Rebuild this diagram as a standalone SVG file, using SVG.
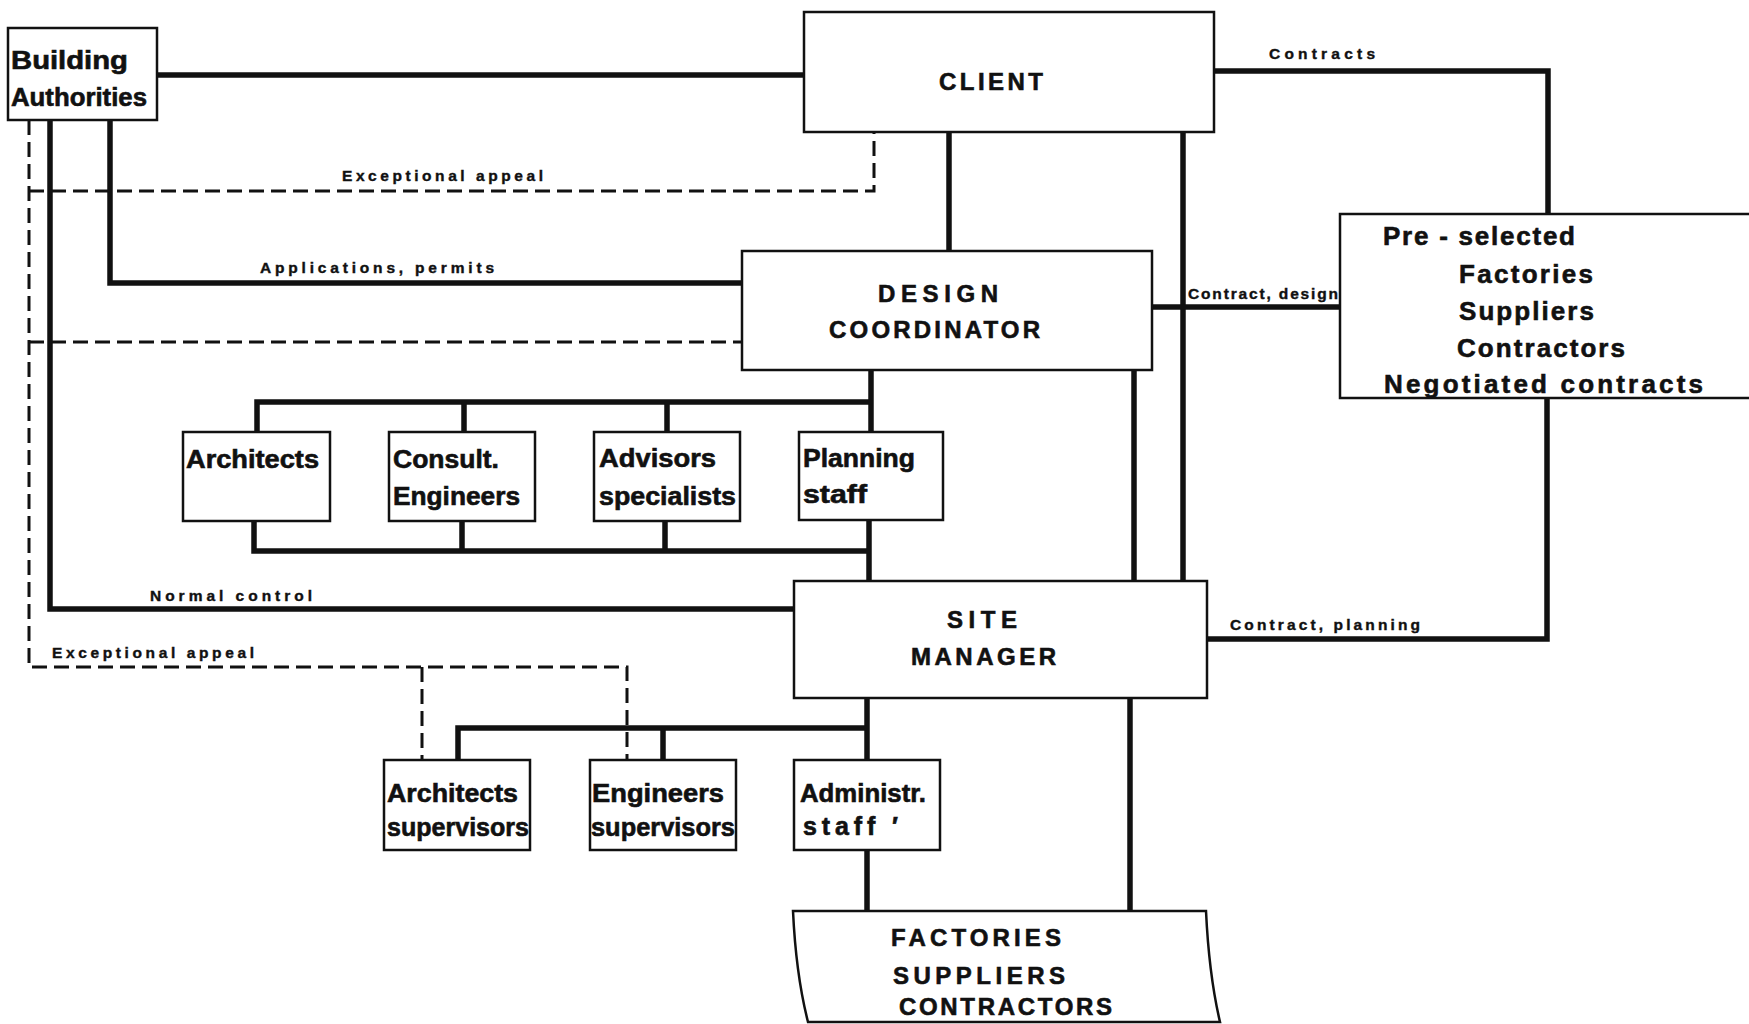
<svg xmlns="http://www.w3.org/2000/svg" width="1749" height="1024" viewBox="0 0 1749 1024">
<style>
.box{fill:#fff;stroke:#111;stroke-width:2.5}
.ln{fill:none;stroke:#111;stroke-width:5.5;stroke-linejoin:miter}
.ds{fill:none;stroke:#111;stroke-width:3;stroke-dasharray:15 7}
text{font-family:"Liberation Sans",Arial,sans-serif;font-weight:bold;fill:#111;stroke:#111;stroke-width:0.6}
.bt{font-size:25px}
.pb{font-size:26px}
.big{font-size:24px}
.lab{font-size:15.5px;stroke-width:0.4}
</style>
<rect width="1749" height="1024" fill="#fff"/>
<g id="connectors">
  <path class="ln" d="M157,75 H804"/>
  <path class="ln" d="M949,132 V251"/>
  <path class="ln" d="M1183,132 V581"/>
  <path class="ln" d="M1214,71 H1548 V214"/>
  <path class="ln" d="M1152,307 H1340"/>
  <path class="ln" d="M1547,398 V639 H1207"/>
  <path class="ln" d="M1134,370 V581"/>
  <path class="ln" d="M110,120 V283 H742"/>
  <path class="ln" d="M50,120 V609 H794"/>
  <path class="ln" d="M871,370 V432"/>
  <path class="ln" d="M257,432 V402 H871"/>
  <path class="ln" d="M464,402 V432 M667,402 V432"/>
  <path class="ln" d="M254,521 V551 H869 M462,521 V551 M665,521 V551 M869,520 V581"/>
  <path class="ln" d="M867,698 V760"/>
  <path class="ln" d="M458,760 V728 H867 M663,728 V760"/>
  <path class="ln" d="M867,850 V911"/>
  <path class="ln" d="M1130,698 V911"/>
  <path class="ds" d="M29,120 V667 H627 V760"/>
  <path class="ds" d="M422,667 V760"/>
  <path class="ds" d="M29,191 H874 V132"/>
  <path class="ds" d="M29,342 H742"/>
  <text class="lab" x="1269" y="59" textLength="106" lengthAdjust="spacing">Contracts</text>
  <text class="lab" x="342" y="181" textLength="201" lengthAdjust="spacing">Exceptional  appeal</text>
  <text class="lab" x="260" y="273" textLength="234" lengthAdjust="spacing">Applications, permits</text>
  <text class="lab" x="1188" y="299" textLength="150" lengthAdjust="spacing">Contract, design</text>
  <text class="lab" x="1230" y="630" textLength="190" lengthAdjust="spacing">Contract, planning</text>
  <text class="lab" x="150" y="601" textLength="162" lengthAdjust="spacing">Normal  control</text>
  <text class="lab" x="52" y="658" textLength="202" lengthAdjust="spacing">Exceptional  appeal</text>
</g>
<g id="building-authorities">
  <rect class="box" x="8" y="28" width="149" height="92"/>
  <text class="bt" x="11" y="69" textLength="117" lengthAdjust="spacingAndGlyphs">Building</text>
  <text class="bt" x="11" y="106" textLength="136" lengthAdjust="spacingAndGlyphs">Authorities</text>
</g>
<g id="client">
  <rect class="box" x="804" y="12" width="410" height="120"/>
  <text class="big" x="939" y="90" textLength="104" lengthAdjust="spacing">CLIENT</text>
</g>
<g id="design-coordinator">
  <rect class="box" x="742" y="251" width="410" height="119"/>
  <text class="big" x="878" y="302" textLength="120" lengthAdjust="spacing">DESIGN</text>
  <text class="big" x="829" y="338" textLength="211" lengthAdjust="spacing">COORDINATOR</text>
</g>
<g id="preselected">
  <rect class="box" x="1340" y="214" width="420" height="184"/>
  <text class="pb" x="1383" y="245" textLength="192" lengthAdjust="spacing">Pre - selected</text>
  <text class="pb" x="1459" y="283" textLength="134" lengthAdjust="spacing">Factories</text>
  <text class="pb" x="1459" y="320" textLength="135" lengthAdjust="spacing">Suppliers</text>
  <text class="pb" x="1457" y="357" textLength="168" lengthAdjust="spacing">Contractors</text>
  <text class="pb" x="1384" y="393" textLength="319" lengthAdjust="spacing">Negotiated  contracts</text>
</g>
<g id="architects">
  <rect class="box" x="183" y="432" width="147" height="89"/>
  <text class="bt" x="186" y="468" textLength="133" lengthAdjust="spacingAndGlyphs">Architects</text>
</g>
<g id="consult-engineers">
  <rect class="box" x="389" y="432" width="146" height="89"/>
  <text class="bt" x="393" y="468" textLength="106" lengthAdjust="spacingAndGlyphs">Consult.</text>
  <text class="bt" x="393" y="505" textLength="127" lengthAdjust="spacingAndGlyphs">Engineers</text>
</g>
<g id="advisors">
  <rect class="box" x="594" y="432" width="146" height="89"/>
  <text class="bt" x="599" y="467" textLength="117" lengthAdjust="spacingAndGlyphs">Advisors</text>
  <text class="bt" x="599" y="505" textLength="137" lengthAdjust="spacingAndGlyphs">specialists</text>
</g>
<g id="planning-staff">
  <rect class="box" x="799" y="432" width="144" height="88"/>
  <text class="bt" x="803" y="467" textLength="112" lengthAdjust="spacingAndGlyphs">Planning</text>
  <text class="bt" x="803" y="503" textLength="64" lengthAdjust="spacingAndGlyphs">staff</text>
</g>
<g id="site-manager">
  <rect class="box" x="794" y="581" width="413" height="117"/>
  <text class="big" x="947" y="628" textLength="70" lengthAdjust="spacing">SITE</text>
  <text class="big" x="911" y="665" textLength="145" lengthAdjust="spacing">MANAGER</text>
</g>
<g id="architects-supervisors">
  <rect class="box" x="384" y="760" width="146" height="90"/>
  <text class="bt" x="387" y="802" textLength="131" lengthAdjust="spacingAndGlyphs">Architects</text>
  <text class="bt" x="387" y="836" textLength="142" lengthAdjust="spacingAndGlyphs">supervisors</text>
</g>
<g id="engineers-supervisors">
  <rect class="box" x="590" y="760" width="146" height="90"/>
  <text class="bt" x="592" y="802" textLength="132" lengthAdjust="spacingAndGlyphs">Engineers</text>
  <text class="bt" x="591" y="836" textLength="144" lengthAdjust="spacingAndGlyphs">supervisors</text>
</g>
<g id="administr-staff">
  <rect class="box" x="794" y="760" width="146" height="90"/>
  <text class="bt" x="800" y="802" textLength="126" lengthAdjust="spacingAndGlyphs">Administr.</text>
  <text class="bt" x="803" y="835" textLength="95" lengthAdjust="spacing">staff  ′</text>
</g>
<g id="factories">
  <path class="box" d="M793,911 H1206 Q1209,975 1220,1022 H808 Q796,975 793,911 Z"/>
  <text class="big" x="891" y="946" textLength="170" lengthAdjust="spacing">FACTORIES</text>
  <text class="big" x="893" y="984" textLength="172" lengthAdjust="spacing">SUPPLIERS</text>
  <text class="big" x="899" y="1015" textLength="213" lengthAdjust="spacing">CONTRACTORS</text>
</g>
</svg>
